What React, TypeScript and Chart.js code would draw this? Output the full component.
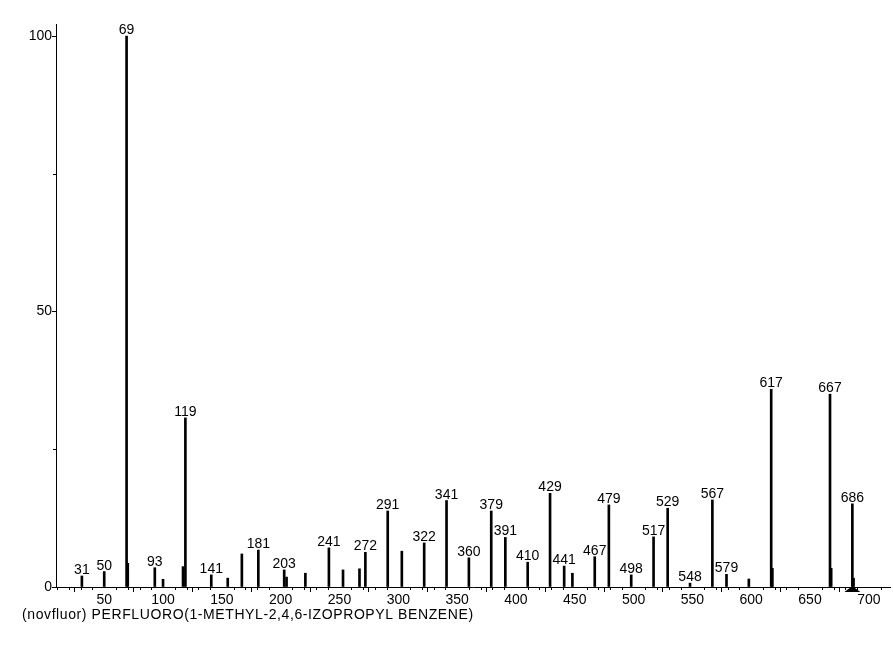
import React, { useEffect, useRef } from "react";
import { Chart, registerables } from "chart.js";

Chart.register(...registerables);

const peakMz = [31, 50, 69, 70, 93, 100, 117, 119, 141, 155, 167, 181, 203, 205, 221, 241, 253, 267, 272, 291, 303, 322, 341, 360, 379, 391, 410, 429, 441, 448, 467, 479, 498, 517, 529, 548, 567, 579, 598, 617, 618, 667, 668, 686, 687];
const peakIntensity = [2.0, 2.8, 100, 4.3, 3.5, 1.4, 3.7, 30.7, 2.2, 1.6, 6.0, 6.7, 3.1, 1.8, 2.5, 7.1, 3.1, 3.3, 6.3, 13.8, 6.5, 8.0, 15.7, 5.3, 13.8, 9.0, 4.5, 17.0, 3.8, 2.5, 5.5, 14.9, 2.2, 9.1, 14.3, 0.7, 15.8, 2.3, 1.45, 35.9, 3.4, 35.0, 3.4, 15.1, 1.6];
const labeledMz = [31, 50, 69, 93, 119, 141, 181, 203, 241, 272, 291, 322, 341, 360, 379, 391, 410, 429, 441, 467, 479, 498, 517, 529, 548, 567, 579, 617, 667, 686];
const xMajorTicks = [50, 100, 150, 200, 250, 300, 350, 400, 450, 500, 550, 600, 650, 700];
const yMajorTicks = [0, 50, 100];
const yMinorTicks = [25, 75];
const molecularIon = 686;
const compoundTitle = "(novfluor) PERFLUORO(1-METHYL-2,4,6-IZOPROPYL BENZENE)";

const FONT = "'Liberation Sans', Arial, sans-serif";

export default function App() {
  const ref = useRef<HTMLCanvasElement | null>(null);

  useEffect(() => {
    if (!ref.current) return;
    const overlay = {
      id: "overlay",
      afterDraw(chart: any) {
        const ctx = chart.ctx;
        const xs = chart.scales.x;
        const ys = chart.scales.y;
        const area = chart.chartArea;
        ctx.save();
        ctx.strokeStyle = "#000";
        ctx.lineWidth = 1;
        // minor x ticks
        for (let v = 10; v <= 710; v += 10) {
          if (v % 50 === 0) continue;
          const px = Math.round(xs.getPixelForValue(v)) + 0.5;
          ctx.beginPath();
          ctx.moveTo(px, area.bottom);
          ctx.lineTo(px, area.bottom + 3);
          ctx.stroke();
        }
        // minor y ticks
        yMinorTicks.forEach((v) => {
          const py = Math.round(ys.getPixelForValue(v)) + 0.5;
          ctx.beginPath();
          ctx.moveTo(area.left - 3, py);
          ctx.lineTo(area.left, py);
          ctx.stroke();
        });
        // peak labels
        ctx.fillStyle = "#000";
        ctx.font = `14px ${FONT}`;
        ctx.textAlign = "center";
        ctx.textBaseline = "alphabetic";
        labeledMz.forEach((mz) => {
          const i = peakMz.indexOf(mz);
          if (i < 0) return;
          const px = xs.getPixelForValue(mz);
          const py = ys.getPixelForValue(peakIntensity[i]);
          ctx.fillText(String(mz), px, py - 2);
        });
        // molecular ion marker
        const mx = xs.getPixelForValue(molecularIon);
        ctx.beginPath();
        ctx.moveTo(mx, area.bottom - 1);
        ctx.lineTo(mx - 8, area.bottom + 5);
        ctx.lineTo(mx + 8, area.bottom + 5);
        ctx.closePath();
        ctx.fill();
        // compound title
        ctx.textAlign = "left";
        ctx.font = `14px ${FONT}`;
        try {
          (ctx as any).letterSpacing = "0.6px";
        } catch (e) {}
        ctx.fillText(compoundTitle, 22, 619);
        try {
          (ctx as any).letterSpacing = "0px";
        } catch (e) {}
        ctx.restore();
      },
    };

    const chart = new Chart(ref.current, {
      type: "bar",
      data: {
        datasets: [
          {
            data: peakMz.map((m, i) => ({ x: m, y: peakIntensity[i] })),
            backgroundColor: "#000",
            borderWidth: 0,
            barThickness: 2,
          } as any,
        ],
      },
      options: {
        animation: false,
        responsive: true,
        maintainAspectRatio: false,
        layout: { padding: { top: 24, right: 3, left: 0, bottom: 0 } },
        plugins: { legend: { display: false }, tooltip: { enabled: false } },
        scales: {
          x: {
            type: "linear",
            min: 9,
            max: 718,
            offset: false,
            afterBuildTicks: (s: any) => {
              s.ticks = xMajorTicks.map((v) => ({ value: v }));
            },
            afterFit: (s: any) => {
              s.height = 59;
            },
            grid: { display: true, drawOnChartArea: false, drawTicks: true, tickLength: 5, color: "#000" },
            border: { display: true, color: "#000", width: 1 },
            ticks: { color: "#000", font: { family: FONT, size: 14 }, padding: 0, maxRotation: 0, autoSkip: false },
          },
          y: {
            type: "linear",
            min: 0,
            max: 102.2,
            afterBuildTicks: (s: any) => {
              s.ticks = yMajorTicks.map((v) => ({ value: v }));
            },
            afterFit: (s: any) => {
              s.width = 56;
            },
            grid: { display: true, drawOnChartArea: false, drawTicks: true, tickLength: 4, color: "#000" },
            border: { display: true, color: "#000", width: 1 },
            ticks: { color: "#000", font: { family: FONT, size: 14 }, padding: 0 },
          },
        },
      },
      plugins: [overlay],
    } as any);
    return () => chart.destroy();
  }, []);

  return (
    <div style={{ position: "fixed", left: 0, top: 0, width: 893, height: 646, background: "#fff" }}>
      <canvas ref={ref} />
    </div>
  );
}
